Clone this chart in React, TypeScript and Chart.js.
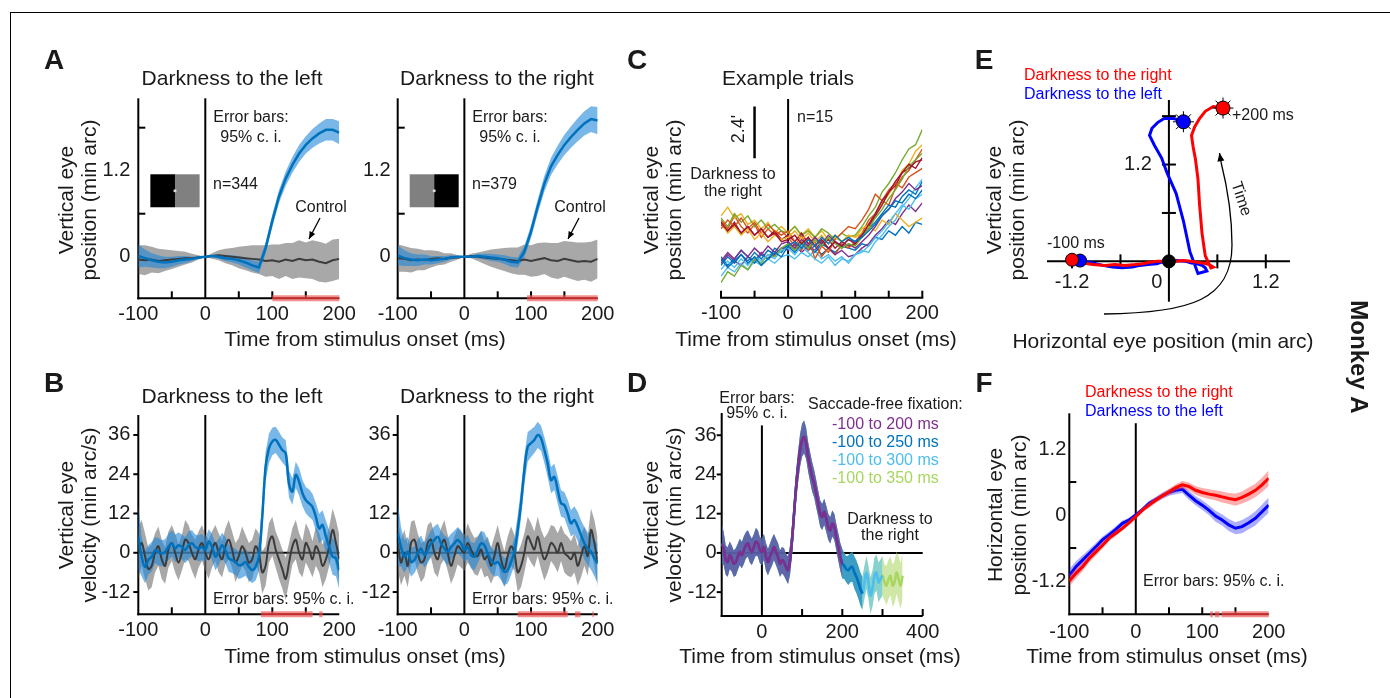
import React, { useEffect, useRef } from "react";
import { Chart, registerables } from "chart.js";
Chart.register(...registerables);

const W = 1390;
const H = 698;
const FF = '"Liberation Sans", Arial, Helvetica, sans-serif';
const font = (px: number, bold = false) => `${bold ? "bold " : ""}${px}px ${FF}`;

// ---------- colours ----------
const C_BLUE = "#0072BD";
const C_ORANGE = "#D95319";
const C_YELLOW = "#EDB120";
const C_PURPLE = "#7E2F8E";
const C_GREEN = "#77AC30";
const C_LBLUE = "#4DBEEE";
const C_DRED = "#A2142F";
const C_LGREEN = "#A8D65E";
const GRAY_BAND = "rgba(115,115,115,0.62)";
const GRAY_LINE = "#3c3c3c";
const BLUE_BAND = "rgba(30,135,215,0.6)";
const RED = "#ff0000";
const BLUEP = "#0000ff";
const TEXT = "#1a1a1a";

// ---------- time grids ----------
const TIME_10 = [-100, -90, -80, -70, -60, -50, -40, -30, -20, -10, 0, 10, 20, 30, 40, 50, 60, 70, 80, 90, 100, 110, 120, 130, 140, 150, 160, 170, 180, 190, 200];
const TIME_5 = [-100, -95, -90, -85, -80, -75, -70, -65, -60, -55, -50, -45, -40, -35, -30, -25, -20, -15, -10, -5, 0, 5, 10, 15, 20, 25, 30, 35, 40, 45, 50, 55, 60, 65, 70, 75, 80, 85, 90, 95, 100, 105, 110, 115, 120, 125, 130, 135, 140, 145, 150, 155, 160, 165, 170, 175, 180, 185, 190, 195, 200];
const TIME_D_250 = [205, 210, 215, 220, 225, 230, 235, 240, 245, 250];
const TIME_D_300 = [255, 260, 265, 270, 275, 280, 285, 290, 295, 300];
const TIME_D_350 = [305, 310, 315, 320, 325, 330, 335, 340, 345, 350];

// ---------- panel A: vertical eye position (min arc) ----------
const POS_L_MEAN = [0.01, -0.02, -0.05, -0.07, -0.08, -0.07, -0.05, -0.04, -0.03, -0.01, 0.0, 0.01, 0.0, -0.02, -0.03, -0.05, -0.08, -0.12, -0.15, 0.12, 0.5, 0.84, 1.09, 1.28, 1.44, 1.56, 1.65, 1.72, 1.77, 1.77, 1.73];
const POS_L_CI = [0.16, 0.12, 0.1, 0.09, 0.08, 0.07, 0.06, 0.05, 0.03, 0.015, 0.0, 0.015, 0.03, 0.04, 0.05, 0.06, 0.07, 0.07, 0.08, 0.08, 0.09, 0.09, 0.1, 0.11, 0.12, 0.12, 0.13, 0.14, 0.15, 0.15, 0.16];
const CTRL_L_MEAN = [-0.04, -0.05, -0.04, -0.06, -0.05, -0.04, -0.03, -0.02, -0.02, -0.01, 0.0, 0.01, 0.02, 0.01, 0.0, -0.01, -0.02, -0.03, -0.04, -0.06, -0.05, -0.07, -0.04, -0.06, -0.03, -0.05, -0.04, -0.07, -0.09, -0.05, -0.03];
const CTRL_L_CI = [0.2, 0.21, 0.18, 0.17, 0.15, 0.13, 0.11, 0.09, 0.06, 0.03, 0.0, 0.04, 0.07, 0.1, 0.12, 0.15, 0.17, 0.19, 0.2, 0.22, 0.22, 0.24, 0.23, 0.25, 0.26, 0.25, 0.27, 0.28, 0.27, 0.29, 0.28];
const POS_R_MEAN = [0.02, -0.02, -0.04, -0.05, -0.04, -0.05, -0.04, -0.03, -0.01, 0.0, 0.0, 0.0, 0.01, 0.0, -0.01, -0.02, -0.04, -0.07, -0.08, 0.07, 0.35, 0.7, 1.02, 1.26, 1.42, 1.56, 1.67, 1.77, 1.86, 1.92, 1.9];
const POS_R_CI = [0.14, 0.11, 0.09, 0.08, 0.07, 0.06, 0.05, 0.04, 0.03, 0.015, 0.0, 0.015, 0.03, 0.04, 0.05, 0.05, 0.06, 0.07, 0.07, 0.08, 0.09, 0.1, 0.11, 0.12, 0.13, 0.14, 0.15, 0.16, 0.17, 0.18, 0.19];
const CTRL_R_MEAN = [-0.02, -0.03, -0.05, -0.04, -0.05, -0.03, -0.02, -0.03, -0.01, -0.01, 0.0, 0.01, 0.0, -0.01, -0.02, -0.03, -0.04, -0.05, -0.06, -0.04, -0.06, -0.04, -0.02, -0.05, -0.06, -0.03, -0.05, -0.07, -0.06, -0.07, -0.03];
const CTRL_R_CI = [0.19, 0.18, 0.17, 0.15, 0.14, 0.12, 0.1, 0.08, 0.06, 0.03, 0.0, 0.03, 0.06, 0.09, 0.12, 0.14, 0.16, 0.18, 0.19, 0.21, 0.22, 0.23, 0.22, 0.24, 0.25, 0.25, 0.26, 0.27, 0.26, 0.28, 0.27];
const SIG_A_L = [[100, 200]];
const SIG_A_R = [[94, 200]];

// ---------- panel B: vertical eye velocity (min arc/s) ----------
const VEL_L_MEAN = [4.9, -1.2, -4.3, -2.2, -1.2, 0.8, 0.3, -0.2, 0.3, 1.8, 2.9, 1.3, 2.3, 1.8, 0.8, 2.3, 2.9, 1.8, 1.3, 1.8, 0.8,
  3.4, 1.8, -1.2, 0.3, 2.3, 0.8, -1.7, -2.2, -2.8, -3.8, -3.6, -2.8, -4.3, -5.3, -4.3, -1.2, 11, 26.3, 31.9, 34,
  34.5, 33, 31.4, 30.4, 21, 18.7, 23.8, 21.7, 18.2, 16.1, 15.1, 14, 11, 7.4, 8.5, 4.9, 1.8, -1.2, -1.7, -5.3];
const VEL_R_MEAN = [5.9, 1.8, -1.2, 0.3, -2.8, -2.2, -0.2, 1.3, -0.7, 0.8, 2.9, 3.9, 4.9, 2.9, 1.3, 0.3, 1.8, 2.9, 3.9, 2.9, 0.8,
  1.8, -0.7, -1.2, 0.8, 2.9, 2.3, -0.2, -2.2, -3.3, -2.8, -4.3, -5.8, -5.3, -2.8, 0.3, 6.9, 15.1, 25.3, 32.4, 33.5,
  34.5, 36, 35, 31.4, 27.3, 22.2, 23.2, 19.2, 15.1, 14.6, 12, 9, 10, 8, 5.4, 2.9, 1.3, 0.3, -1.7, -3.3];
const CTRL_VEL_L = [0, 3, -1, -5, -4, 0, 2, -2, -4, 1, 3, 0, -3, 0, 4, 3, 0, -2, 1, 3, 0,
  -2, 1, 3, 0, -2, 2, 4, 1, -3, -1, 2, 0, -3, -2, 2, 0, -6, -4, 3, 5,
  1, -2, -5, -8, -3, 2, 4, 0, -2, 3, 1, -2, 2, 0, -4, -2, 2, 7, 3, -2];
const CTRL_VEL_R = [3, -3, 0, -4, 3, 4, 0, -3, -2, 3, 4, 0, -2, 2, 4, 0, -4, -1, 2, 1, 0,
  3, 1, -1, -1, 1, -2, -1, -4, -1, 3, -2, -5, -1, 2, 0, -6, -4, 0, 5, 3,
  1, 5, 1, -2, 0, 3, 2, 0, 3, 0, -1, -2, 0, -4, -1, 2, -1, 7, 3, -3];
const VEL_BLUE_CI = [10, 6, 5, 4.5, 4.5, 4, 4.2, 4, 3.8, 4, 4, 4.2, 4, 3.8, 4, 4.2, 4, 3.8, 4, 4, 3.5,
  3.8, 4, 4.2, 4, 3.8, 4, 4.2, 4, 4, 4.2, 4, 4.2, 4, 4, 4.2, 4.5, 4.5, 4.5, 4.5, 4.2,
  4, 4, 3.8, 4, 4.2, 4, 4, 4.2, 4, 4, 4.2, 4, 4.2, 4.5, 4.5, 5, 5, 5.5, 5.5, 6];
const VEL_GRAY_CI = [8, 7, 7, 6.5, 6.5, 6, 6, 6, 5.5, 5.5, 5.5, 6, 5.5, 5.5, 6, 5.5, 5.5, 6, 5.5, 5.5, 5.5,
  6, 5.5, 5.5, 6, 5.5, 5.5, 6, 5.5, 6, 5.5, 6, 5.5, 6, 6, 5.5, 6, 6.5, 6, 6, 6,
  5.5, 6, 6, 6.5, 6, 5.5, 6, 6, 5.5, 6, 6, 5.5, 6, 6, 6.5, 6, 6, 6.5, 7, 7.5];
const SIG_B_L = [[83, 160], [170, 175]];
const SIG_B_R = [[80, 155], [166, 174], [192, 194]];

// ---------- panel C: example trials (vertical position, arbitrary offset) ----------
const TRIAL_01 = [1.5, 1.9, 1.6, 2.0, 1.7, 2.1, 1.8, 2.2, 2.0, 2.3, 2.4, 2.1, 2.5, 2.2, 2.4, 2.0, 2.3, 2.1, 2.4, 2.3, 2.2, 2.5, 2.4, 2.8, 2.7, 3.1, 2.9, 3.3, 3.0, 3.5, 3.4];
const TRIAL_02 = [3.6, 3.2, 3.8, 3.3, 3.0, 3.4, 2.8, 3.2, 2.9, 3.1, 2.8, 2.4, 2.9, 2.2, 2.6, 1.9, 2.3, 2.0, 2.5, 2.3, 2.6, 3.0, 3.6, 3.9, 4.5, 4.3, 5.1, 5.6, 5.9, 6.4, 6.9];
const TRIAL_03 = [3.8, 4.2, 3.7, 3.9, 3.4, 3.6, 3.2, 3.5, 3.0, 3.3, 3.0, 3.3, 2.9, 3.2, 2.8, 3.1, 2.7, 2.9, 2.6, 2.9, 2.8, 3.2, 3.4, 3.9, 4.4, 4.8, 5.3, 5.9, 6.2, 6.8, 7.1];
const TRIAL_04 = [1.6, 2.0, 1.7, 1.5, 1.9, 1.7, 2.1, 1.8, 2.0, 2.3, 2.2, 2.5, 2.1, 2.4, 2.2, 2.6, 2.3, 2.0, 2.2, 1.9, 2.0, 2.3, 2.5, 2.9, 3.2, 3.6, 3.4, 3.9, 4.3, 4.0, 4.4];
const TRIAL_05 = [3.7, 3.3, 3.9, 3.5, 3.8, 3.3, 3.6, 3.2, 3.4, 3.1, 3.0, 3.3, 2.9, 3.1, 2.8, 3.2, 3.0, 2.7, 3.0, 2.8, 2.9, 3.3, 3.8, 4.2, 4.9, 5.3, 5.8, 6.4, 6.9, 7.1, 7.8];
const TRIAL_06 = [1.0, 1.4, 1.2, 1.6, 1.3, 1.7, 1.5, 1.8, 1.6, 1.9, 2.0, 1.8, 2.1, 1.9, 2.2, 1.8, 2.0, 1.7, 1.9, 1.6, 2.0, 2.2, 2.1, 2.6, 2.9, 3.3, 3.6, 4.2, 4.6, 5.1, 5.5];
const TRIAL_07 = [3.4, 3.1, 3.5, 3.0, 3.3, 2.9, 3.2, 2.8, 3.1, 2.7, 2.9, 2.6, 3.0, 2.5, 2.8, 2.4, 2.7, 2.3, 2.6, 2.4, 2.5, 2.9, 3.3, 3.8, 4.3, 4.9, 5.2, 5.8, 6.0, 6.3, 6.4];
const TRIAL_08 = [1.9, 1.5, 1.8, 2.2, 1.9, 1.6, 2.0, 1.8, 2.3, 2.1, 2.5, 2.2, 2.6, 2.4, 2.1, 2.5, 2.3, 2.6, 2.4, 2.7, 2.6, 2.9, 3.2, 3.5, 3.9, 4.3, 4.2, 4.7, 5.0, 4.8, 5.4];
const TRIAL_09 = [3.2, 3.6, 3.3, 3.7, 3.2, 3.5, 3.0, 3.4, 3.1, 2.9, 3.1, 2.6, 2.2, 2.8, 1.8, 2.4, 2.1, 2.7, 3.0, 3.3, 3.2, 3.6, 4.1, 4.8, 4.5, 5.0, 5.3, 5.1, 5.6, 5.8, 6.0];
const TRIAL_10 = [3.5, 3.0, 3.3, 2.9, 3.2, 2.7, 3.0, 2.6, 2.9, 2.7, 2.8, 3.1, 2.7, 3.0, 2.6, 2.9, 2.5, 2.8, 2.6, 2.9, 2.8, 3.0, 3.3, 3.1, 3.6, 3.4, 3.9, 3.6, 3.3, 3.5, 3.7];
const TRIAL_11 = [1.7, 2.1, 1.8, 2.2, 1.9, 2.3, 2.0, 2.4, 2.1, 2.5, 2.6, 2.3, 2.7, 2.4, 2.8, 2.5, 2.9, 2.6, 2.3, 2.5, 2.3, 2.6, 2.9, 3.3, 3.8, 4.1, 4.6, 4.9, 5.3, 5.0, 5.2];
const TRIAL_12 = [0.7, 1.2, 1.0, 1.5, 1.3, 1.8, 1.6, 2.0, 1.9, 2.3, 2.5, 2.2, 2.6, 2.3, 2.7, 2.4, 2.8, 2.5, 2.3, 2.5, 2.4, 2.8, 3.2, 3.7, 4.1, 4.6, 5.0, 5.5, 6.1, 6.4, 6.7];
const TRIAL_13 = [1.3, 1.7, 1.4, 1.8, 1.5, 1.9, 1.7, 2.0, 1.8, 2.2, 2.3, 2.0, 2.4, 2.1, 1.8, 1.6, 1.9, 1.5, 1.8, 1.7, 2.0, 2.1, 2.4, 2.8, 3.1, 3.5, 3.9, 4.3, 4.1, 4.6, 4.8];
const TRIAL_14 = [3.5, 3.1, 3.4, 3.0, 3.3, 2.9, 3.2, 2.8, 3.0, 2.6, 2.7, 2.9, 2.5, 2.8, 2.4, 2.7, 2.3, 2.6, 2.4, 2.7, 2.5, 2.9, 3.4, 3.9, 4.5, 4.9, 5.4, 5.8, 6.2, 6.0, 6.5];
const TRIAL_15 = [1.8, 1.4, 1.7, 2.0, 1.6, 1.9, 1.5, 1.8, 2.1, 1.9, 2.4, 2.6, 2.3, 2.7, 2.4, 2.8, 2.5, 2.9, 2.6, 2.8, 2.6, 2.8, 3.1, 3.4, 3.8, 4.1, 4.5, 4.4, 4.8, 4.6, 5.0];
const TRIALS = [TRIAL_01, TRIAL_02, TRIAL_03, TRIAL_04, TRIAL_05, TRIAL_06, TRIAL_07, TRIAL_08, TRIAL_09, TRIAL_10, TRIAL_11, TRIAL_12, TRIAL_13, TRIAL_14, TRIAL_15];
const TRIAL_COLORS = [C_BLUE, C_ORANGE, C_YELLOW, C_PURPLE, C_GREEN, C_LBLUE, C_DRED, C_BLUE, C_ORANGE, C_YELLOW, C_PURPLE, C_GREEN, C_LBLUE, C_DRED, C_BLUE];
const SCALE_BAR = { x: -50, y0: 6.47, len: 2.4 };

// ---------- panel D: velocity with different saccade-free windows ----------
const VEL_D_MAIN = [2.9, 1.3, -2.2, -2.8, -0.7, -1.7, -3.3, -2.8, -1.2, 0.3, -0.7, 0.8, 2.3, 2.9, 1.3, 0.3, 1.8, 3.4, 2.9, 0.8, 0.3,
  1.8, -1.2, -2.8, -1.2, 0.3, 1.8, 0.3, -1.2, -3.3, -2.2, -2.8, -4.3, -5.3, -2.2, 3.9, 12, 20.2, 26.3, 31.4, 34.5,
  35.5, 33.5, 29.4, 26.3, 23.3, 21.2, 18.2, 15.1, 12, 11, 12.6, 10.5, 8, 6.9, 9, 8, 4.9, 1.8, -1.2, -3.3];
const VEL_D_CI = [6, 5, 4.5, 4.5, 4.2, 4, 4, 4.2, 4, 4, 4, 4.2, 4, 4, 4.2, 4, 4, 4.2, 4, 4, 4,
  4, 4.2, 4, 4, 4.2, 4, 4, 4.2, 4, 4, 4.2, 4, 4.2, 4.5, 4.5, 4.5, 4.8, 4.8, 5, 5,
  5, 4.8, 4.5, 4.5, 4.5, 4.2, 4.2, 4, 4, 4, 4, 4, 4, 4, 4, 4, 4, 4.2, 4.2, 4.5];
const VEL_D_EXT250 = [-4, -5, -5.3, -4.5, -4.3, -6, -7.3, -9, -11, -12.4];
const VEL_D_EXT300 = [-9, -6, -9, -13, -11, -7, -6, -9, -8, -7];
const VEL_D_EXT350 = [-9, -10, -8, -7, -10, -9, -6, -8, -10, -7];
const CI_D_EXT250 = [4, 4, 4.5, 4.5, 4.5, 5, 5, 5, 5, 5];
const CI_D_EXT300 = [5, 5, 5, 5.5, 5.5, 5.5, 5.5, 6, 6, 6];
const CI_D_EXT350 = [5.5, 6, 6, 6, 6.5, 6.5, 6.5, 7, 7, 7];

// ---------- panel F: horizontal eye position (min arc) ----------
const F_RED = [-1.2, -1.06, -0.94, -0.79, -0.67, -0.55, -0.42, -0.33, -0.24, -0.14, -0.03, 0.09, 0.18, 0.27, 0.35, 0.42, 0.5, 0.55, 0.52, 0.45, 0.41, 0.38, 0.36, 0.33, 0.3, 0.28, 0.32, 0.38, 0.45, 0.55, 0.67];
const F_BLUE = [-1.1, -0.94, -0.82, -0.7, -0.58, -0.45, -0.36, -0.26, -0.15, -0.09, 0.0, 0.1, 0.21, 0.28, 0.35, 0.41, 0.45, 0.47, 0.36, 0.26, 0.18, 0.09, -0.02, -0.09, -0.18, -0.24, -0.21, -0.14, -0.06, 0.06, 0.18];
const F_RED_CI = [0.1, 0.09, 0.08, 0.07, 0.07, 0.06, 0.05, 0.05, 0.04, 0.04, 0.04, 0.04, 0.05, 0.05, 0.05, 0.06, 0.06, 0.07, 0.07, 0.08, 0.08, 0.09, 0.09, 0.1, 0.1, 0.11, 0.11, 0.12, 0.12, 0.13, 0.14];
const F_BLUE_CI = [0.12, 0.1, 0.09, 0.08, 0.07, 0.06, 0.06, 0.05, 0.05, 0.04, 0.04, 0.04, 0.05, 0.05, 0.06, 0.06, 0.07, 0.07, 0.08, 0.08, 0.09, 0.09, 0.1, 0.1, 0.11, 0.11, 0.12, 0.12, 0.13, 0.13, 0.14];
const SIG_F = [[112, 116], [119, 126], [129, 200]];

// ---------- tick labels ----------
const X_TIME_LABELS: any[] = [[-100, "-100"], [0, "0"], [100, "100"], [200, "200"]];
const X_TIME_D_LABELS: any[] = [[0, "0"], [200, "200"], [400, "400"]];
const Y_POS_LABELS: any[] = [[0, "0"], [1.2, "1.2"]];
const Y_VEL_LABELS: any[] = [[-12, "-12"], [0, "0"], [12, "12"], [24, "24"], [36, "36"]];
const Y_F_LABELS: any[] = [[-1.2, "-1.2"], [0, "0"], [1.2, "1.2"]];
const X_E_LABELS: any[] = [[-1.2, "-1.2", 0], [0, "0", -12], [1.2, "1.2", 0]];
const Y_E_LABELS: any[] = [[1.2, "1.2"]];

// ---------- helpers ----------
const pts = (xs: number[], ys: number[]) => xs.map((x, i) => ({ x, y: ys[i] }));
const band = (xs: number[], mean: number[], ci: number[], color: string) => [
  { data: pts(xs, mean.map((m, i) => m + ci[i])), borderWidth: 0, pointRadius: 0, fill: false },
  { data: pts(xs, mean.map((m, i) => m - ci[i])), borderWidth: 0, pointRadius: 0, fill: "-1", backgroundColor: color },
];
const line = (xs: number[], ys: number[], color: string, w: number, extra: any = {}) => ({
  data: pts(xs, ys), borderColor: color, borderWidth: w, pointRadius: 0, fill: false, ...extra,
});
const sig = (intervals: number[][], yv: number) =>
  intervals.flatMap(([a, b]) => [
    { data: [{ x: a, y: yv }, { x: b, y: yv }], borderColor: "rgba(238,95,95,0.7)", borderWidth: 6, pointRadius: 0, fill: false, clip: false },
    { data: [{ x: a, y: yv }, { x: b, y: yv }], borderColor: "#c42a2a", borderWidth: 1.5, pointRadius: 0, fill: false, clip: false },
  ]);
const marker = (p: any, color: string, r: number, style = "circle", bw = 1) => ({
  data: [p], showLine: false, pointRadius: r, pointStyle: style, pointBackgroundColor: color,
  pointBorderColor: "#000", pointBorderWidth: bw, clip: false,
});

function arrow(ctx: any, x1: number, y1: number, x2: number, y2: number, head = 8) {
  ctx.beginPath();
  ctx.moveTo(x1, y1);
  ctx.lineTo(x2, y2);
  ctx.stroke();
  const a = Math.atan2(y2 - y1, x2 - x1);
  ctx.beginPath();
  ctx.moveTo(x2, y2);
  ctx.lineTo(x2 - head * Math.cos(a - 0.4), y2 - head * Math.sin(a - 0.4));
  ctx.lineTo(x2 - head * Math.cos(a + 0.4), y2 - head * Math.sin(a + 0.4));
  ctx.closePath();
  ctx.fill();
}

type Txt = { t: string; x: number; y: number; size?: number; bold?: boolean; color?: string; align?: string; rot?: number };

function axesPlugin(id: string, c: any) {
  return {
    id,
    beforeDatasetsDraw(chart: any) {
      const { ctx, chartArea: a, scales } = chart;
      const X = (v: number) => scales.x.getPixelForValue(v);
      const Y = (v: number) => scales.y.getPixelForValue(v);
      ctx.save();
      ctx.strokeStyle = "#000";
      ctx.lineWidth = 2;
      const ln = (x1: number, y1: number, x2: number, y2: number) => {
        ctx.beginPath();
        ctx.moveTo(x1, y1);
        ctx.lineTo(x2, y2);
        ctx.stroke();
      };
      if (c.frame === "box") {
        ln(a.left, a.top, a.left, a.bottom + 1);
        ln(a.left - 1, a.bottom, a.right, a.bottom);
      }
      if (c.frame === "bottom") ln(a.left - 1, a.bottom, a.right + 1, a.bottom);
      if (c.frame === "cross") {
        ln(a.left, Y(0), a.right, Y(0));
        ln(X(0), a.top, X(0), a.bottom);
      }
      if (c.zeroV !== undefined) ln(X(0), Y(c.zeroV), X(0), a.bottom);
      if (c.zeroH) ln(a.left, Y(0), a.right, Y(0));
      const tl = 7;
      const xAxisY = c.frame === "cross" ? Y(0) : a.bottom;
      const yAxisX = c.frame === "cross" ? X(0) : a.left;
      for (const v of c.xIn || []) ln(X(v), xAxisY, X(v), xAxisY - tl);
      for (const v of c.xCross || []) ln(X(v), xAxisY - tl, X(v), xAxisY + tl);
      for (const v of c.yIn || []) ln(yAxisX, Y(v), yAxisX + tl, Y(v));
      for (const v of c.yOut || []) ln(yAxisX - 5, Y(v), yAxisX, Y(v));
      for (const v of c.yCross || []) ln(yAxisX - tl, Y(v), yAxisX + tl, Y(v));
      ctx.fillStyle = TEXT;
      ctx.font = font(20);
      ctx.textBaseline = "middle";
      ctx.textAlign = "center";
      for (const [v, s, dx] of c.xLab || []) ctx.fillText(s, X(v) + (dx || 0), xAxisY + (c.xLabDy ?? 16));
      ctx.textAlign = "right";
      for (const [v, s] of c.yLab || []) ctx.fillText(s, yAxisX - (c.yLabDx ?? 7), Y(v));
      ctx.restore();
    },
  };
}

function textPlugin(id: string, items: Txt[], decor?: (ctx: any, X: any, Y: any) => void) {
  return {
    id,
    afterDraw(chart: any) {
      const { ctx, scales } = chart;
      const X = (v: number) => scales.x.getPixelForValue(v);
      const Y = (v: number) => scales.y.getPixelForValue(v);
      ctx.save();
      if (decor) {
        ctx.save();
        decor(ctx, X, Y);
        ctx.restore();
      }
      for (const it of items) {
        ctx.save();
        ctx.translate(it.x, it.y);
        if (it.rot) ctx.rotate(it.rot);
        ctx.font = font(it.size ?? 16, it.bold);
        ctx.fillStyle = it.color ?? TEXT;
        ctx.textAlign = (it.align as any) ?? "left";
        ctx.textBaseline = "middle";
        ctx.fillText(it.t, 0, 0);
        ctx.restore();
      }
      ctx.restore();
    },
  };
}

const R90 = -Math.PI / 2;

// ---------- inset stimulus drawing ----------
const inset = (darkLeft: boolean) => (ctx: any, X: any, Y: any) => {
  const x0 = X(-82), x1 = X(-8.5), xm = (x0 + x1) / 2;
  const y0 = Y(1.15), y1 = Y(0.69);
  ctx.fillStyle = darkLeft ? "#000" : "#808080";
  ctx.fillRect(x0, y0, xm - x0, y1 - y0);
  ctx.fillStyle = darkLeft ? "#808080" : "#000";
  ctx.fillRect(xm, y0, x1 - xm, y1 - y0);
  ctx.fillStyle = "#d8d8d8";
  ctx.beginPath();
  ctx.arc(xm, (y0 + y1) / 2, 1.6, 0, Math.PI * 2);
  ctx.fill();
};

// ---------- specs ----------
const A_YR = [-0.58, 2.21];
const B_YR = [-18.8, 42.1];
const D_YR = [-19.3, 42.8];
const F_YR = [-1.805, 1.85];

const SPECS: any[] = [
  // A left
  {
    area: [138.3, 98.3, 339.3, 298.3], xr: [-100, 200], yr: A_YR,
    layers: [
      ...band(TIME_10, CTRL_L_MEAN, CTRL_L_CI, GRAY_BAND),
      ...band(TIME_10, POS_L_MEAN, POS_L_CI, BLUE_BAND),
      line(TIME_10, CTRL_L_MEAN, GRAY_LINE, 2),
      line(TIME_10, POS_L_MEAN, C_BLUE, 2.5),
      ...sig(SIG_A_L, A_YR[0]),
    ],
    axes: { frame: "box", zeroV: A_YR[1], xIn: [-50, 50, 100, 150], xLab: X_TIME_LABELS, yIn: [0.6, 1.8], yLab: Y_POS_LABELS, yLabDx: 8 },
    texts: [
      { t: "A", x: 54, y: 61, size: 28, bold: true, align: "center" },
      { t: "Darkness to the left", x: 232, y: 79, size: 21, align: "center" },
      { t: "Vertical eye", x: 67, y: 200, size: 21, align: "center", rot: R90 },
      { t: "position (min arc)", x: 90, y: 200, size: 21, align: "center", rot: R90 },
      { t: "Error bars:", x: 251, y: 118, align: "center" },
      { t: "95% c. i.", x: 251, y: 138, align: "center" },
      { t: "n=344", x: 213, y: 185 },
      { t: "Control", x: 321, y: 208, align: "center" },
      { t: "Time from stimulus onset (ms)", x: 365, y: 340, size: 21, align: "center" },
    ],
    decor: (ctx: any, X: any, Y: any) => {
      inset(true)(ctx, X, Y);
      ctx.strokeStyle = "#000"; ctx.fillStyle = "#000"; ctx.lineWidth = 1.3;
      arrow(ctx, 320, 218, 309, 239, 8);
    },
  },
  // A right
  {
    area: [397.7, 98.3, 597.7, 298.3], xr: [-100, 200], yr: A_YR,
    layers: [
      ...band(TIME_10, CTRL_R_MEAN, CTRL_R_CI, GRAY_BAND),
      ...band(TIME_10, POS_R_MEAN, POS_R_CI, BLUE_BAND),
      line(TIME_10, CTRL_R_MEAN, GRAY_LINE, 2),
      line(TIME_10, POS_R_MEAN, C_BLUE, 2.5),
      ...sig(SIG_A_R, A_YR[0]),
    ],
    axes: { frame: "box", zeroV: A_YR[1], xIn: [-50, 50, 100, 150], xLab: X_TIME_LABELS, yIn: [0.6, 1.8], yLab: Y_POS_LABELS, yLabDx: 7 },
    texts: [
      { t: "Darkness to the right", x: 497, y: 79, size: 21, align: "center" },
      { t: "Error bars:", x: 510, y: 118, align: "center" },
      { t: "95% c. i.", x: 510, y: 138, align: "center" },
      { t: "n=379", x: 472, y: 185 },
      { t: "Control", x: 580, y: 208, align: "center" },
    ],
    decor: (ctx: any, X: any, Y: any) => {
      inset(false)(ctx, X, Y);
      ctx.strokeStyle = "#000"; ctx.fillStyle = "#000"; ctx.lineWidth = 1.3;
      arrow(ctx, 579, 218, 568, 239, 8);
    },
  },
  // C
  {
    area: [721, 99, 922.3, 297.7], xr: [-100, 200], yr: [0, 9.22],
    layers: [
      ...TRIALS.map((tr, i) => line(TIME_10, tr, TRIAL_COLORS[i], 1.4)),
      { data: [{ x: SCALE_BAR.x, y: SCALE_BAR.y0 }, { x: SCALE_BAR.x, y: SCALE_BAR.y0 + SCALE_BAR.len }], borderColor: "#000", borderWidth: 2.5, pointRadius: 0, fill: false },
    ],
    axes: { frame: "bottom", zeroV: 9.22, xIn: [-100, -50, 50, 100, 150, 200], xLab: X_TIME_LABELS },
    texts: [
      { t: "C", x: 637, y: 61, size: 28, bold: true, align: "center" },
      { t: "Example trials", x: 788, y: 79, size: 21, align: "center" },
      { t: "Vertical eye", x: 652, y: 200, size: 21, align: "center", rot: R90 },
      { t: "position (min arc)", x: 675, y: 200, size: 21, align: "center", rot: R90 },
      { t: "n=15", x: 797, y: 118 },
      { t: "Darkness to", x: 733, y: 175, align: "center" },
      { t: "the right", x: 733, y: 192, align: "center" },
      { t: "2.4'", x: 739, y: 129, size: 18, align: "center", rot: R90 },
      { t: "Time from stimulus onset (ms)", x: 816, y: 340, size: 21, align: "center" },
    ],
  },
  // E
  {
    area: [1047, 100, 1290, 301.7], xr: [-1.51, 1.5], yr: [-0.5, 2.0],
    layers: [
      line(TIME_10, POS_L_MEAN, BLUEP, 3, { data: TIME_10.map((_, i) => ({ x: F_BLUE[i], y: POS_L_MEAN[i] })) }),
      line(TIME_10, POS_R_MEAN, RED, 3, { data: TIME_10.map((_, i) => ({ x: F_RED[i], y: POS_R_MEAN[i] })) }),
      marker({ x: F_BLUE[0], y: POS_L_MEAN[0] }, BLUEP, 6.5),
      marker({ x: F_RED[0], y: POS_R_MEAN[0] }, RED, 6.5),
      marker({ x: F_BLUE[10], y: POS_L_MEAN[10] }, "#000", 6.5),
      marker({ x: F_BLUE[30], y: POS_L_MEAN[30] }, BLUEP, 10.5, "star", 1),
      marker({ x: F_BLUE[30], y: POS_L_MEAN[30] }, BLUEP, 7),
      marker({ x: F_RED[30], y: POS_R_MEAN[30] }, RED, 10.5, "star", 1),
      marker({ x: F_RED[30], y: POS_R_MEAN[30] }, RED, 7),
    ],
    axes: { frame: "cross", xCross: [-1.2, -0.6, 0.6, 1.2], yCross: [0.6, 1.2, 1.8], xLab: X_E_LABELS, xLabDy: 21, yLab: Y_E_LABELS, yLabDx: 17 },
    texts: [
      { t: "E", x: 984, y: 61, size: 28, bold: true, align: "center" },
      { t: "Darkness to the right", x: 1024, y: 76, color: RED },
      { t: "Darkness to the left", x: 1024, y: 95, color: BLUEP },
      { t: "+200 ms", x: 1232, y: 116 },
      { t: "-100 ms", x: 1047, y: 244 },
      { t: "Vertical eye", x: 995, y: 200, size: 21, align: "center", rot: R90 },
      { t: "position (min arc)", x: 1018, y: 200, size: 21, align: "center", rot: R90 },
      { t: "Horizontal eye position (min arc)", x: 1163, y: 342, size: 21, align: "center" },
      { t: "Time", x: 1241, y: 199, align: "center", rot: 1.25 },
      { t: "Monkey A", x: 1358, y: 357, size: 24, bold: true, align: "center", rot: Math.PI / 2 },
    ],
    decor: (ctx: any) => {
      ctx.strokeStyle = "#000"; ctx.fillStyle = "#000"; ctx.lineWidth = 1.3;
      ctx.beginPath();
      ctx.moveTo(1104, 314);
      ctx.bezierCurveTo(1190, 313, 1232, 300, 1232, 245);
      ctx.bezierCurveTo(1232, 210, 1226, 182, 1221, 162);
      ctx.stroke();
      arrow(ctx, 1221, 162, 1219.5, 153, 9);
    },
  },
  // B left
  {
    area: [138.3, 415, 339.3, 614.3], xr: [-100, 200], yr: B_YR,
    layers: [
      ...band(TIME_5, CTRL_VEL_L, VEL_GRAY_CI, GRAY_BAND),
      ...band(TIME_5, VEL_L_MEAN, VEL_BLUE_CI, BLUE_BAND),
      line(TIME_5, CTRL_VEL_L, GRAY_LINE, 2, { tension: 0.35 }),
      line(TIME_5, VEL_L_MEAN, C_BLUE, 2.5, { tension: 0.35 }),
      ...sig(SIG_B_L, B_YR[0]),
    ],
    axes: { frame: "box", zeroV: B_YR[1], zeroH: true, xIn: [-50, 50, 100, 150], xLab: X_TIME_LABELS, yOut: [-12, 0, 12, 24, 36], yLab: Y_VEL_LABELS, yLabDx: 8 },
    texts: [
      { t: "B", x: 54, y: 384, size: 28, bold: true, align: "center" },
      { t: "Darkness to the left", x: 232, y: 397, size: 21, align: "center" },
      { t: "Vertical eye", x: 67, y: 515, size: 21, align: "center", rot: R90 },
      { t: "velocity (min arc/s)", x: 90, y: 515, size: 21, align: "center", rot: R90 },
      { t: "Error bars: 95% c. i.", x: 213, y: 600 },
      { t: "Time from stimulus onset (ms)", x: 365, y: 657, size: 21, align: "center" },
    ],
  },
  // B right
  {
    area: [397.7, 415, 597.7, 614.3], xr: [-100, 200], yr: B_YR,
    layers: [
      ...band(TIME_5, CTRL_VEL_R, VEL_GRAY_CI, GRAY_BAND),
      ...band(TIME_5, VEL_R_MEAN, VEL_BLUE_CI, BLUE_BAND),
      line(TIME_5, CTRL_VEL_R, GRAY_LINE, 2, { tension: 0.35 }),
      line(TIME_5, VEL_R_MEAN, C_BLUE, 2.5, { tension: 0.35 }),
      ...sig(SIG_B_R, B_YR[0]),
    ],
    axes: { frame: "box", zeroV: B_YR[1], zeroH: true, xIn: [-50, 50, 100, 150], xLab: X_TIME_LABELS, yOut: [-12, 0, 12, 24, 36], yLab: Y_VEL_LABELS, yLabDx: 7 },
    texts: [
      { t: "Darkness to the right", x: 497, y: 397, size: 21, align: "center" },
      { t: "Error bars: 95% c. i.", x: 472, y: 600 },
    ],
  },
  // D
  {
    area: [721.7, 413, 922.7, 616], xr: [-100, 400], yr: D_YR,
    layers: [
      ...band([...TIME_5, ...TIME_D_250, ...TIME_D_300, ...TIME_D_350], [...VEL_D_MAIN, ...VEL_D_EXT250, ...VEL_D_EXT300, ...VEL_D_EXT350], [...VEL_D_CI, ...CI_D_EXT250, ...CI_D_EXT300, ...CI_D_EXT350], "rgba(168,214,94,0.55)"),
      line([...TIME_5, ...TIME_D_250, ...TIME_D_300, ...TIME_D_350], [...VEL_D_MAIN, ...VEL_D_EXT250, ...VEL_D_EXT300, ...VEL_D_EXT350], C_LGREEN, 2.5, { tension: 0.35 }),
      ...band([...TIME_5, ...TIME_D_250, ...TIME_D_300], [...VEL_D_MAIN, ...VEL_D_EXT250, ...VEL_D_EXT300], [...VEL_D_CI, ...CI_D_EXT250, ...CI_D_EXT300], "rgba(77,190,238,0.55)"),
      line([...TIME_5, ...TIME_D_250, ...TIME_D_300], [...VEL_D_MAIN, ...VEL_D_EXT250, ...VEL_D_EXT300], C_LBLUE, 2.5, { tension: 0.35 }),
      ...band([...TIME_5, ...TIME_D_250], [...VEL_D_MAIN, ...VEL_D_EXT250], [...VEL_D_CI, ...CI_D_EXT250], "rgba(0,114,189,0.55)"),
      line([...TIME_5, ...TIME_D_250], [...VEL_D_MAIN, ...VEL_D_EXT250], C_BLUE, 2.5, { tension: 0.35 }),
      ...band(TIME_5, VEL_D_MAIN, VEL_D_CI, "rgba(126,47,142,0.5)"),
      line(TIME_5, VEL_D_MAIN, C_PURPLE, 2.5, { tension: 0.35 }),
    ],
    axes: { frame: "box", zeroV: 39, zeroH: true, xIn: [100, 200, 300, 400], xLab: X_TIME_D_LABELS, yOut: [-12, 0, 12, 24, 36], yLab: Y_VEL_LABELS, yLabDx: 5 },
    texts: [
      { t: "D", x: 637, y: 384, size: 28, bold: true, align: "center" },
      { t: "Error bars:", x: 757, y: 399, align: "center" },
      { t: "95% c. i.", x: 757, y: 414, align: "center" },
      { t: "Saccade-free fixation:", x: 808, y: 405 },
      { t: "-100 to 200 ms", x: 832, y: 425, color: C_PURPLE },
      { t: "-100 to 250 ms", x: 832, y: 443, color: C_BLUE },
      { t: "-100 to 300 ms", x: 832, y: 461, color: C_LBLUE },
      { t: "-100 to 350 ms", x: 832, y: 479, color: C_LGREEN },
      { t: "Darkness to", x: 890, y: 520, align: "center" },
      { t: "the right", x: 890, y: 536, align: "center" },
      { t: "Vertical eye", x: 652, y: 515, size: 21, align: "center", rot: R90 },
      { t: "velocity (min arc/s)", x: 675, y: 515, size: 21, align: "center", rot: R90 },
      { t: "Time from stimulus onset (ms)", x: 820, y: 657, size: 21, align: "center" },
    ],
  },
  // F
  {
    area: [1069.3, 413.3, 1268.7, 614.3], xr: [-100, 200], yr: F_YR,
    layers: [
      ...band(TIME_10, F_BLUE, F_BLUE_CI, "rgba(50,50,255,0.4)"),
      line(TIME_10, F_BLUE, BLUEP, 3),
      ...band(TIME_10, F_RED, F_RED_CI, "rgba(255,70,70,0.45)"),
      line(TIME_10, F_RED, RED, 3),
      ...sig(SIG_F, F_YR[0]),
    ],
    axes: { frame: "box", zeroV: 1.67, xIn: [-50, 50, 100, 150], xLab: X_TIME_LABELS, xLabDy: 18, yIn: [-0.6, 0.6], yLab: Y_F_LABELS, yLabDx: 3 },
    texts: [
      { t: "F", x: 984, y: 384, size: 28, bold: true, align: "center" },
      { t: "Darkness to the right", x: 1085, y: 393, color: RED },
      { t: "Darkness to the left", x: 1085, y: 412, color: BLUEP },
      { t: "Error bars: 95% c. i.", x: 1143, y: 582 },
      { t: "Horizontal eye", x: 996, y: 515, size: 21, align: "center", rot: R90 },
      { t: "position (min arc)", x: 1020, y: 515, size: 21, align: "center", rot: R90 },
      { t: "Time from stimulus onset (ms)", x: 1167, y: 657, size: 21, align: "center" },
    ],
  },
];

function makeChart(canvas: HTMLCanvasElement, s: any, idx: number) {
  const n = s.layers.length;
  const datasets = s.layers.map((d: any, i: number) => ({ ...d, order: n - i }));
  return new Chart(canvas, {
    type: "line",
    data: { datasets },
    options: {
      animation: false,
      responsive: false,
      events: [],
      layout: { padding: { left: s.area[0], top: s.area[1], right: W - s.area[2], bottom: H - s.area[3] } },
      scales: {
        x: { type: "linear", display: false, min: s.xr[0], max: s.xr[1] },
        y: { type: "linear", display: false, min: s.yr[0], max: s.yr[1] },
      },
      plugins: { legend: { display: false }, tooltip: { enabled: false } },
      elements: { point: { radius: 0 }, line: { tension: 0 } },
    } as any,
    plugins: [axesPlugin("axes" + idx, s.axes), textPlugin("texts" + idx, s.texts, s.decor)],
  });
}

export default function App() {
  const refs = useRef<(HTMLCanvasElement | null)[]>([]);
  useEffect(() => {
    document.body.style.margin = "0";
    const charts = SPECS.map((s, i) => makeChart(refs.current[i] as HTMLCanvasElement, s, i));
    return () => charts.forEach((c) => c.destroy());
  }, []);
  return (
    <div style={{ position: "absolute", left: 0, top: 0, width: W, height: H, background: "#fff", overflow: "hidden" }}>
      <div style={{ position: "absolute", left: 10, top: 12, width: W - 10, height: H - 12, borderTop: "1.5px solid #000", borderLeft: "1.5px solid #000", boxSizing: "border-box" }} />
      {SPECS.map((_, i) => (
        <canvas
          key={i}
          ref={(el) => { refs.current[i] = el; }}
          width={W}
          height={H}
          style={{ position: "absolute", left: 0, top: 0, width: W, height: H }}
        />
      ))}
    </div>
  );
}
